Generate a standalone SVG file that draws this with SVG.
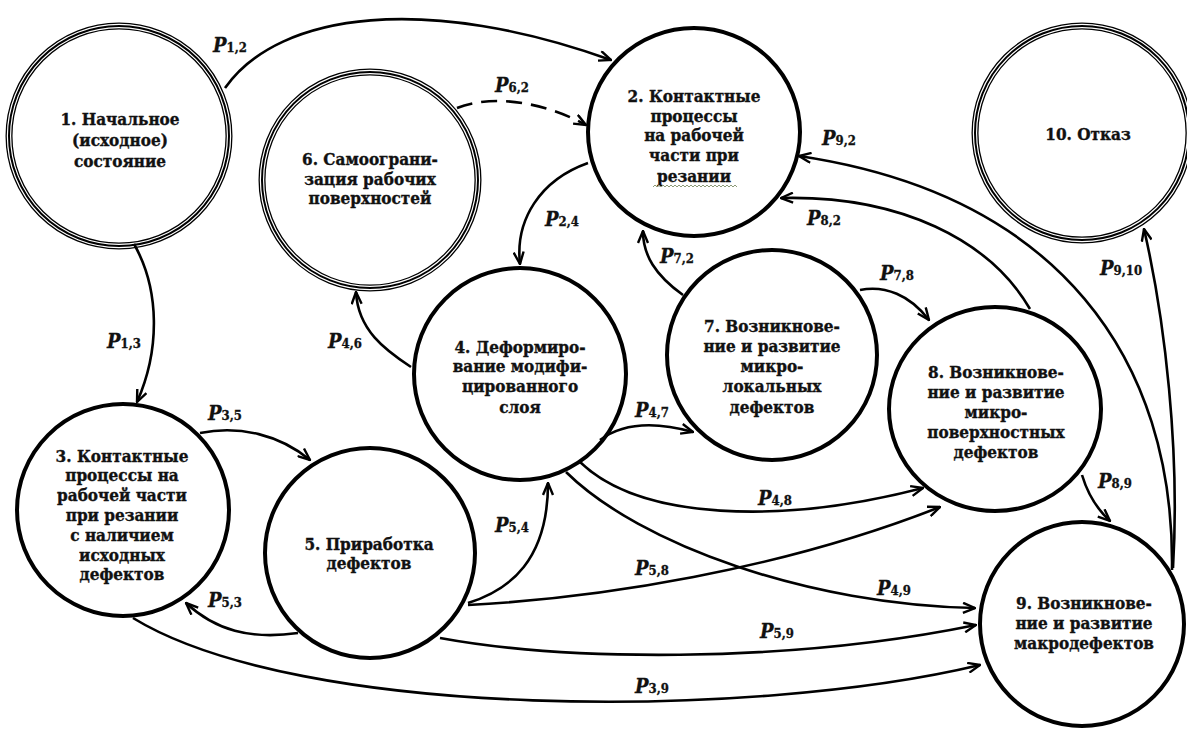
<svg xmlns="http://www.w3.org/2000/svg" width="1187" height="729" viewBox="0 0 1187 729">
<style>
.n{fill:#fff;stroke:#000;stroke-width:4}
.d{fill:#fff;stroke:#000;stroke-width:7}
.dw{fill:none;stroke:#fff;stroke-width:1.2}
.t{font-family:"DejaVu Serif Condensed","DejaVu Serif",serif;font-stretch:condensed;font-weight:bold;font-size:17px;fill:#111;stroke:#111;stroke-width:0.35;text-anchor:middle}
.e{fill:none;stroke:#000;stroke-width:2.6}
.l{font-family:"DejaVu Serif Condensed","DejaVu Serif",serif;font-weight:bold;fill:#111;stroke:#111;stroke-width:0.3}
.p{font-style:italic;font-size:20px}
.s{font-size:13px;font-style:normal}
</style>
<defs>
<marker id="a" viewBox="0 0 14 12" refX="13" refY="6" markerWidth="14" markerHeight="12" markerUnits="userSpaceOnUse" orient="auto">
<path d="M1,1 L13,6 L1,11" fill="none" stroke="#000" stroke-width="2.4"/>
</marker>
</defs>
<g id="node1"><circle class="d" cx="119" cy="136" r="110"/><circle class="dw" cx="119" cy="136" r="108.4"/><circle class="dw" cx="119" cy="136" r="111.6"/>
<text class="t" x="120"><tspan x="120" y="125">1. Начальное</tspan><tspan x="120" y="146">(исходное)</tspan><tspan x="120" y="167">состояние</tspan></text></g>
<g id="node6"><circle class="d" cx="370" cy="180" r="108"/><circle class="dw" cx="370" cy="180" r="106.4"/><circle class="dw" cx="370" cy="180" r="109.6"/>
<text class="t"><tspan x="370" y="165">6. Самоограни-</tspan><tspan x="370" y="185">зация рабочих</tspan><tspan x="370" y="204">поверхностей</tspan></text></g>
<g id="node10"><circle class="d" cx="1082" cy="133" r="107"/><circle class="dw" cx="1082" cy="133" r="105.4"/><circle class="dw" cx="1082" cy="133" r="108.6"/>
<text class="t"><tspan x="1088" y="140">10. Отказ</tspan></text></g>
<g id="node2"><ellipse class="n" cx="694" cy="132" rx="106" ry="104"/>
<text class="t"><tspan x="694" y="102">2. Контактные</tspan><tspan x="694" y="122">процессы</tspan><tspan x="694" y="141">на рабочей</tspan><tspan x="694" y="161">части при</tspan><tspan x="694" y="182">резании</tspan></text>
<path d="M653,187 l2,-2 2,2 2,-2 2,2 2,-2 2,2 2,-2 2,2 2,-2 2,2 2,-2 2,2 2,-2 2,2 2,-2 2,2 2,-2 2,2 2,-2 2,2 2,-2 2,2 2,-2 2,2 2,-2 2,2 2,-2 2,2 2,-2 2,2 2,-2 2,2 2,-2 2,2 2,-2 2,2 2,-2 2,2 2,-2 2,2 2,-2 2,2" fill="none" stroke="#8c9a78" stroke-width="1"/></g>
<g id="node3"><circle class="n" cx="123" cy="510" r="106"/>
<text class="t"><tspan x="122" y="462">3. Контактные</tspan><tspan x="122" y="481">процессы на</tspan><tspan x="122" y="501">рабочей части</tspan><tspan x="122" y="521">при резании</tspan><tspan x="122" y="541">с наличием</tspan><tspan x="122" y="561">исходных</tspan><tspan x="122" y="580">дефектов</tspan></text></g>
<g id="node4"><circle class="n" cx="520" cy="374" r="106"/>
<text class="t"><tspan x="520" y="353">4. Деформиро-</tspan><tspan x="520" y="372">вание модифи-</tspan><tspan x="520" y="392">цированного</tspan><tspan x="520" y="413">слоя</tspan></text></g>
<g id="node5"><circle class="n" cx="370" cy="553" r="105"/>
<text class="t"><tspan x="369" y="550">5. Приработка</tspan><tspan x="369" y="569">дефектов</tspan></text></g>
<g id="node7"><circle class="n" cx="772" cy="355" r="105"/>
<text class="t"><tspan x="772" y="332">7. Возникнове-</tspan><tspan x="772" y="352">ние и развитие</tspan><tspan x="772" y="372">микро-</tspan><tspan x="772" y="392">локальных</tspan><tspan x="772" y="413">дефектов</tspan></text></g>
<g id="node8"><ellipse class="n" cx="995" cy="409" rx="106" ry="102"/>
<text class="t"><tspan x="996" y="378">8. Возникнове-</tspan><tspan x="996" y="398">ние и развитие</tspan><tspan x="996" y="418">микро-</tspan><tspan x="996" y="438">поверхностных</tspan><tspan x="996" y="458">дефектов</tspan></text></g>
<g id="node9"><circle class="n" cx="1082" cy="624" r="102"/>
<text class="t"><tspan x="1084" y="609">9. Возникнове-</tspan><tspan x="1084" y="629">ние и развитие</tspan><tspan x="1084" y="649">макродефектов</tspan></text></g>
<g id="connectors">
<path class="e" marker-end="url(#a)" d="M225,88 C280,10 430,-5 611,60"/>
<path class="e" marker-end="url(#a)" d="M134,244 C160,290 160,350 137,402"/>
<path class="e" marker-end="url(#a)" stroke-dasharray="16,9" d="M457,108 C490,95 540,100 586,125"/>
<path class="e" marker-end="url(#a)" d="M588,163 C540,180 515,220 520,264"/>
<path class="e" marker-end="url(#a)" d="M411,367 C385,350 358,330 356,292"/>
<path class="e" marker-end="url(#a)" d="M683,295 C655,275 643,255 643,231"/>
<path class="e" marker-end="url(#a)" d="M1030,309 C990,240 900,195 781,198"/>
<path class="e" marker-end="url(#a)" d="M1172,570 C1175,360 1060,195 799,156"/>
<path class="e" marker-end="url(#a)" d="M1173,568 C1180,450 1165,320 1144,229"/>
<path class="e" marker-end="url(#a)" d="M860,290 C885,285 910,295 929,320"/>
<path class="e" marker-end="url(#a)" d="M600,440 C620,425 650,420 693,432"/>
<path class="e" marker-end="url(#a)" d="M580,462 C640,520 780,525 923,488"/>
<path class="e" marker-end="url(#a)" d="M566,472 C640,545 810,605 975,608"/>
<path class="e" marker-end="url(#a)" d="M468,605 C600,598 780,570 940,507"/>
<path class="e" marker-end="url(#a)" d="M468,603 C510,590 548,560 548,483"/>
<path class="e" marker-end="url(#a)" d="M440,638 C560,660 780,665 976,625"/>
<path class="e" marker-end="url(#a)" d="M298,633 C250,640 215,630 186,603"/>
<path class="e" marker-end="url(#a)" d="M133,618 C300,720 750,720 980,665"/>
<path class="e" marker-end="url(#a)" d="M200,433 C240,425 280,435 310,460"/>
<path class="e" marker-end="url(#a)" d="M1082,475 C1088,495 1098,510 1110,521"/>
</g>
<g id="labels" class="l">
<text x="213" y="52"><tspan class="p">P</tspan><tspan class="s">1,2</tspan></text>
<text x="107" y="348"><tspan class="p">P</tspan><tspan class="s">1,3</tspan></text>
<text x="495" y="92"><tspan class="p">P</tspan><tspan class="s">6,2</tspan></text>
<text x="545" y="226"><tspan class="p">P</tspan><tspan class="s">2,4</tspan></text>
<text x="328" y="348"><tspan class="p">P</tspan><tspan class="s">4,6</tspan></text>
<text x="660" y="263"><tspan class="p">P</tspan><tspan class="s">7,2</tspan></text>
<text x="807" y="225"><tspan class="p">P</tspan><tspan class="s">8,2</tspan></text>
<text x="822" y="145"><tspan class="p">P</tspan><tspan class="s">9,2</tspan></text>
<text x="1100" y="275"><tspan class="p">P</tspan><tspan class="s">9,10</tspan></text>
<text x="880" y="280"><tspan class="p">P</tspan><tspan class="s">7,8</tspan></text>
<text x="635" y="417"><tspan class="p">P</tspan><tspan class="s">4,7</tspan></text>
<text x="758" y="505"><tspan class="p">P</tspan><tspan class="s">4,8</tspan></text>
<text x="877" y="595"><tspan class="p">P</tspan><tspan class="s">4,9</tspan></text>
<text x="635" y="575"><tspan class="p">P</tspan><tspan class="s">5,8</tspan></text>
<text x="495" y="532"><tspan class="p">P</tspan><tspan class="s">5,4</tspan></text>
<text x="760" y="638"><tspan class="p">P</tspan><tspan class="s">5,9</tspan></text>
<text x="208" y="607"><tspan class="p">P</tspan><tspan class="s">5,3</tspan></text>
<text x="635" y="693"><tspan class="p">P</tspan><tspan class="s">3,9</tspan></text>
<text x="208" y="420"><tspan class="p">P</tspan><tspan class="s">3,5</tspan></text>
<text x="1098" y="488"><tspan class="p">P</tspan><tspan class="s">8,9</tspan></text>
</g>
</svg>
